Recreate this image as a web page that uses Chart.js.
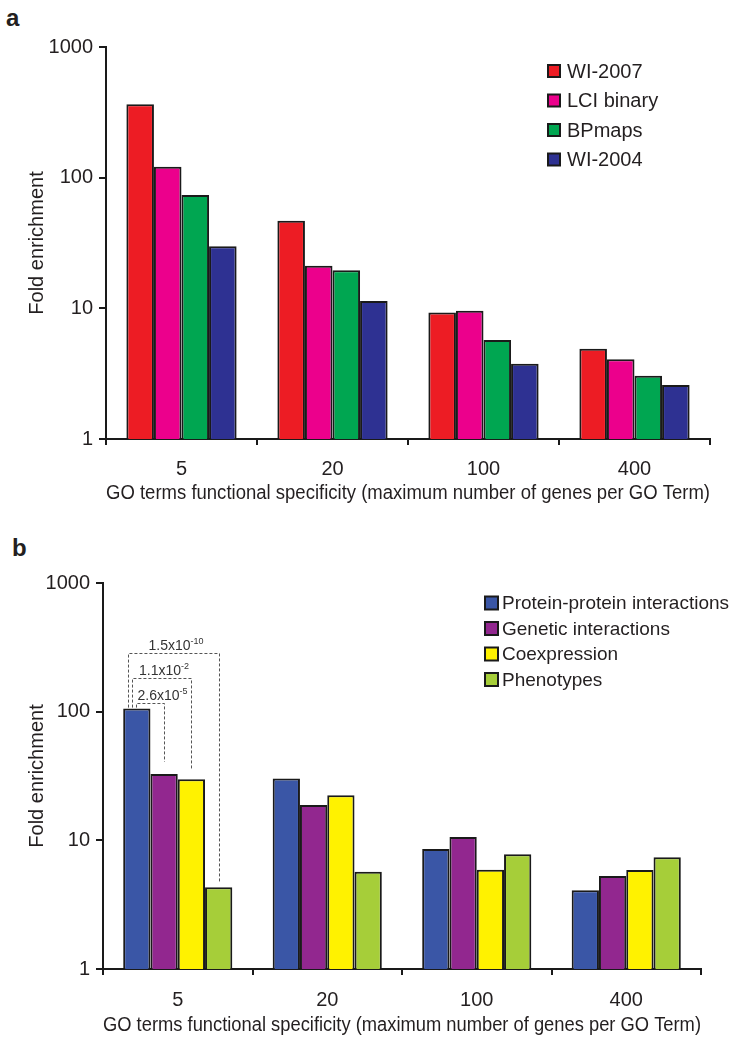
<!DOCTYPE html>
<html>
<head>
<meta charset="utf-8">
<script src="https://cdn.jsdelivr.net/npm/chart.js@4.4.1/dist/chart.umd.min.js"></script>
<style>
  html, body { margin: 0; padding: 0; background: #fff; }
  body { width: 732px; height: 1050px; position: relative; overflow: hidden; font-family: 'Liberation Sans', Arial, sans-serif; }
  .panel { position: absolute; left: 0; }
  .tag { position: absolute; font: bold 24px 'Liberation Sans', Arial, sans-serif; line-height: 24px; color: #231f20; }
</style>
</head>
<body>
<div class="tag" style="left:6px; top:6px;">a</div>
<div class="tag" style="left:12px; top:536px;">b</div>
<div class="panel" style="top:0;"><canvas id="chartA" width="732" height="520"></canvas></div>
<div class="panel" style="top:520px;"><canvas id="chartB" width="732" height="530"></canvas></div>
<script>
// ---------- data ----------
const categories = ['5', '20', '100', '400'];
const yTickValues = [1, 10, 100, 1000];
const yTitle = 'Fold enrichment';
const xTitle = 'GO terms functional specificity (maximum number of genes per GO Term)';

// panel a
const seriesA = ['WI-2007', 'LCI binary', 'BPmaps', 'WI-2004'];
const wi2007 = [364, 46.8, 9.3, 4.9];
const lciBinary = [121, 21.2, 9.6, 4.07];
const bpMaps = [73.6, 19.6, 5.72, 3.05];
const wi2004 = [29.8, 11.4, 3.77, 2.59];

// panel b
const seriesB = ['Protein-protein interactions', 'Genetic interactions', 'Coexpression', 'Phenotypes'];
const proteinProtein = [105.7, 30.2, 8.58, 4.09];
const genetic = [32.8, 18.8, 10.6, 5.29];
const coexpression = [29.9, 22.4, 5.92, 5.89];
const phenotypes = [4.32, 5.71, 7.80, 7.39];

// p-value brackets in panel b (category "5", protein-protein vs. series index)
const pCompareSeries = [1, 2, 3];
const pMantissa = ['2.6', '1.1', '1.5'];
const pExponent = ['-5', '-2', '-10'];
const pBracketTop = [116, 182, 288];

// ---------- styling ----------
const FONT = "'Liberation Sans', Arial, sans-serif";
const INK = '#231f20';
Chart.defaults.font.family = FONT;
Chart.defaults.color = INK;

const colorsA = ['#ed1c24', '#ec008c', '#00a651', '#2e3192'];
const colorsB = ['#3a56a6', '#92278f', '#fff200', '#a6ce39'];

function makeDatasets(names, arrays, colors) {
  return names.map((n, i) => ({
    label: n,
    data: arrays[i],
    backgroundColor: colors[i],
    borderColor: '#1a1a1a',
    borderWidth: 2,
    borderSkipped: 'bottom',
    categoryPercentage: 0.73,
    barPercentage: 1.0
  }));
}

const boxLegend = {
  id: 'boxLegend',
  afterDraw(chart, args, opts) {
    const ctx = chart.ctx;
    ctx.save();
    ctx.font = opts.fontSize + 'px ' + FONT;
    ctx.textBaseline = 'middle';
    ctx.textAlign = 'left';
    chart.data.datasets.forEach((ds, i) => {
      const cy = opts.y + i * opts.row;
      const s = opts.box;
      ctx.fillStyle = ds.backgroundColor;
      ctx.fillRect(opts.x, cy - s / 2, s, s);
      ctx.lineWidth = 2;
      ctx.strokeStyle = '#1a1a1a';
      ctx.strokeRect(opts.x, cy - s / 2, s, s);
      ctx.fillStyle = INK;
      ctx.fillText(ds.label, opts.x + s + opts.gap, cy + 1);
    });
    ctx.restore();
  }
};

const pBrackets = {
  id: 'pBrackets',
  afterDatasetsDraw(chart, args, opts) {
    if (!opts.enabled) return;
    const ctx = chart.ctx;
    const y = chart.scales.y;
    const ref = chart.getDatasetMeta(0).data[0];
    ctx.save();
    ctx.strokeStyle = '#555';
    ctx.lineWidth = 1;
    ctx.setLineDash([3, 2]);
    pCompareSeries.forEach((si, i) => {
      const bar = chart.getDatasetMeta(si).data[0];
      const lx = Math.round(ref.x - ref.width / 2 + 13 - 4 * i) + 0.5;
      const rx = Math.round(bar.x) + 0.5;
      const ty = Math.round(y.getPixelForValue(pBracketTop[i])) + 0.5;
      ctx.beginPath();
      ctx.moveTo(lx, ref.y - 1);
      ctx.lineTo(lx, ty);
      ctx.lineTo(rx, ty);
      ctx.lineTo(rx, bar.y - opts.gaps[i]);
      ctx.stroke();
      // label
      ctx.setLineDash([]);
      const mainFont = '14px ' + FONT, supFont = '9px ' + FONT;
      ctx.font = mainFont;
      const mainText = pMantissa[i] + 'x10';
      const mw = ctx.measureText(mainText).width;
      ctx.font = supFont;
      const sw = ctx.measureText(pExponent[i]).width;
      const total = mw + sw;
      let left = (lx + rx) / 2 - total / 2 + 2;
      if (left < lx + 1) left = lx + 1;
      const base = ty - 4;
      ctx.fillStyle = '#333';
      ctx.textBaseline = 'alphabetic';
      ctx.textAlign = 'left';
      ctx.font = mainFont;
      ctx.fillText(mainText, left, base);
      ctx.font = supFont;
      ctx.fillText(pExponent[i], left + mw, base - 6);
      ctx.setLineDash([3, 2]);
    });
    ctx.restore();
  }
};

function makeOptions(cfg) {
  return {
    responsive: false,
    animation: false,
    events: [],
    layout: { padding: { top: cfg.padTop, right: cfg.padRight, bottom: cfg.padBottom, left: 0 } },
    plugins: {
      legend: { display: false },
      tooltip: { enabled: false },
      boxLegend: cfg.legend,
      pBrackets: { enabled: cfg.brackets, gaps: [12, 9, 5] }
    },
    scales: {
      x: {
        type: 'category',
        afterFit: s => { s.height = cfg.xHeight; },
        ticks: { font: { size: 20 }, color: INK, padding: cfg.xTickPad, maxRotation: 0 },
        grid: { display: true, offset: true, drawOnChartArea: false, drawTicks: true, tickLength: 6, color: '#1a1a1a', lineWidth: 2 },
        border: { display: true, color: '#1a1a1a', width: 2 },
        title: { display: true, text: xTitle, font: { size: 20 }, color: INK, padding: { top: 0, bottom: 0 } }
      },
      y: {
        type: 'logarithmic',
        min: 1,
        max: 1000,
        afterFit: s => { s.width = cfg.yWidth; },
        afterBuildTicks: s => { s.ticks = yTickValues.map(v => ({ value: v, major: true })); },
        ticks: { font: { size: 20 }, color: INK, padding: 6, callback: v => String(v) },
        grid: { display: true, drawOnChartArea: false, drawTicks: true, tickLength: 7, color: '#1a1a1a', lineWidth: 2 },
        border: { display: true, color: '#1a1a1a', width: 2 },
        title: { display: true, text: yTitle, font: { size: 20 }, color: INK, padding: { top: 25, bottom: 0 } }
      }
    }
  };
}

new Chart(document.getElementById('chartA'), {
  type: 'bar',
  data: { labels: categories, datasets: makeDatasets(seriesA, [wi2007, lciBinary, bpMaps, wi2004], colorsA) },
  options: makeOptions({
    padTop: 47, padRight: 22, padBottom: 15, xHeight: 66, yWidth: 106, xTickPad: 12, brackets: false,
    legend: { x: 548, y: 71, row: 29.5, box: 12, gap: 7, fontSize: 20 }
  }),
  plugins: [boxLegend, pBrackets]
});

new Chart(document.getElementById('chartB'), {
  type: 'bar',
  data: { labels: categories, datasets: makeDatasets(seriesB, [proteinProtein, genetic, coexpression, phenotypes], colorsB) },
  options: makeOptions({
    padTop: 63, padRight: 31, padBottom: 13, xHeight: 68, yWidth: 103, xTickPad: 13, brackets: true,
    legend: { x: 485, y: 83, row: 25.5, box: 13, gap: 4, fontSize: 19 }
  }),
  plugins: [boxLegend, pBrackets]
});
</script>
</body>
</html>
